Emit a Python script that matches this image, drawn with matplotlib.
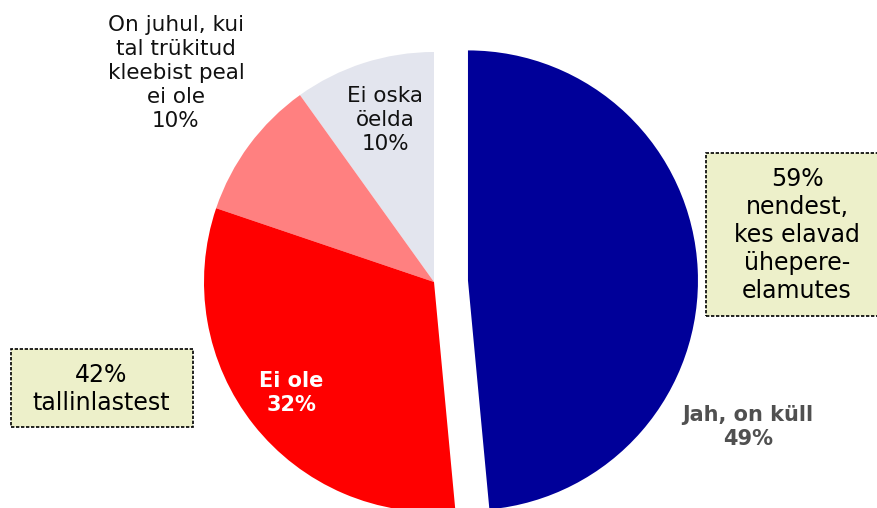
import matplotlib
matplotlib.use('Agg')
import matplotlib.pyplot as plt
from matplotlib.patches import Rectangle

# slices, counter-clockwise from the top
shares = [10, 10, 32, 49]
colours = ['#e3e5ee', '#ff8080', '#ff0000', '#000099']

label_gray = 'Ei oska\nöelda\n10%'
label_pink = 'On juhul, kui\ntal trükitud\nkleebist peal\nei ole\n10%'
label_red = 'Ei ole\n32%'
label_blue = 'Jah, on küll\n49%'
note_right = '59%\nnendest,\nkes elavad\nühepere-\nelamutes'
note_left = '42%\ntallinlastest'

W, H = 877, 508

fig = plt.figure(figsize=(W / 100, H / 100), dpi=100)
ax = fig.add_axes([0, 0, 1, 1])

# pixel-like coordinates, y up; explode is in data units here
ax.pie(shares, colors=colours, explode=[0, 0, 0, 34], startangle=90, counterclock=True,
       center=(434, H - 282), radius=230, wedgeprops=dict(linewidth=0))
ax.set_xlim(0, W)
ax.set_ylim(0, H)
ax.set_aspect('equal')
ax.axis('off')

ax.text(385, H - 120, label_gray, ha='center', va='center', fontsize=15.5, color='#111111',
        linespacing=1.25)
ax.text(176, H - 73, label_pink, ha='center', va='center', fontsize=15.5, color='#111111',
        linespacing=1.25)
ax.text(291, H - 393, label_red, ha='center', va='center', fontsize=15, color='white',
        fontweight='bold', linespacing=1.25)
ax.text(748, H - 427, label_blue, ha='center', va='center', fontsize=15, color='#505050',
        fontweight='bold', linespacing=1.25)

box_fill = '#edf0ca'
ax.add_patch(Rectangle((706, H - 316), 190, 163, facecolor=box_fill, edgecolor='black',
                       linewidth=1.2, linestyle=(0, (2, 1))))
ax.text(797, H - 235, note_right, ha='center', va='center', fontsize=17, color='black',
        linespacing=1.2)

ax.add_patch(Rectangle((11, H - 427), 182, 78, facecolor=box_fill, edgecolor='black',
                       linewidth=1.2, linestyle=(0, (2, 1))))
ax.text(101, H - 389, note_left, ha='center', va='center', fontsize=17, color='black',
        linespacing=1.2)

fig.savefig('out.png', dpi=100)
